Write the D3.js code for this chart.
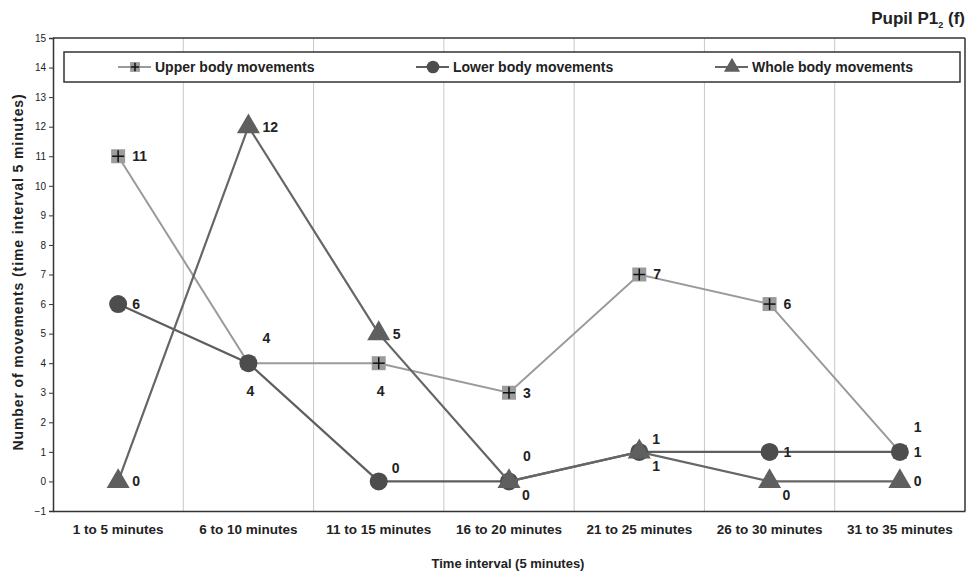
<!DOCTYPE html>
<html><head><meta charset="utf-8">
<script src="https://cdn.jsdelivr.net/npm/d3@7/dist/d3.min.js"></script>
<style>
body{margin:0;background:#fff;}
text{font-family:"Liberation Sans",Arial,sans-serif;}
</style></head>
<body><svg id="chart" width="968" height="573"></svg>
<script>
const categories = ["1 to 5 minutes","6 to 10 minutes","11 to 15 minutes","16 to 20 minutes","21 to 25 minutes","26 to 30 minutes","31 to 35 minutes"];
const upperBody = [11, 4, 4, 3, 7, 6, 1];
const lowerBody = [6, 4, 0, 0, 1, 1, 1];
const wholeBody = [0, 12, 5, 0, 1, 0, 0];
const yTicks = [-1,0,1,2,3,4,5,6,7,8,9,10,11,12,13,14,15];
const seriesNames = ["Upper body movements","Lower body movements","Whole body movements"];
// label placement keywords per point
const upperLabelPos = ["r","b","b","r","r","r","AR"];
const lowerLabelPos = ["r","AR","ar","AR","ar","r","r"];
const wholeLabelPos = ["r","r","r","br","br","br","r"];

const svg = d3.select("#chart");
const L = 53, R = 965, T = 38, B = 511;
const x = d3.scaleBand().domain(categories).range([L, R]).padding(0);
const cx = c => x(c) + x.bandwidth()/2;
const y = d3.scaleLinear().domain([-1, 15]).range([B, T]);

// gridlines
svg.append("g").selectAll("line").data(categories.slice(1)).join("line")
  .attr("x1", d => x(d)).attr("x2", d => x(d)).attr("y1", T).attr("y2", B)
  .attr("stroke", "#c8c8c8").attr("stroke-width", 1);

// frame
svg.append("line").attr("x1", L).attr("x2", R).attr("y1", T).attr("y2", T).attr("stroke", "#333").attr("stroke-width", 1.5);
svg.append("line").attr("x1", R).attr("x2", R).attr("y1", T).attr("y2", B).attr("stroke", "#333").attr("stroke-width", 1.5);

// y axis
const yAxis = svg.append("g").attr("transform", `translate(${L},0)`)
  .call(d3.axisLeft(y).tickValues(yTicks).tickSize(4).tickPadding(3).tickFormat(d3.format("d")));
yAxis.select(".domain").attr("stroke", "#333").attr("stroke-width", 1.5);
yAxis.selectAll(".tick line").attr("stroke", "#333");
yAxis.selectAll(".tick text").attr("font-size", 10).attr("fill", "#222").attr("font-family", "'Liberation Sans Narrow','Liberation Sans',Arial,sans-serif");

// x axis
const xAxis = svg.append("g").attr("transform", `translate(0,${B})`)
  .call(d3.axisBottom(x).tickSize(0).tickPadding(13));
xAxis.select(".domain").attr("stroke", "#333").attr("stroke-width", 1.5);
xAxis.selectAll(".tick text").attr("font-size", 13.5).attr("font-weight", "bold").attr("fill", "#222");

// axis titles
svg.append("text").attr("x", 508).attr("y", 568).attr("text-anchor", "middle")
  .attr("font-size", 13).attr("font-weight", "bold").attr("fill", "#222").text("Time interval (5 minutes)");
svg.append("text").attr("transform", "translate(23,272) rotate(-90)").attr("text-anchor", "middle")
  .attr("font-size", 14).attr("font-weight", "bold").attr("fill", "#222").attr("letter-spacing", "0.9px")
  .text("Number of movements (time interval 5 minutes)");

// title
const title = svg.append("text").attr("x", 965).attr("y", 24).attr("text-anchor", "end")
  .attr("font-size", 17).attr("font-weight", "bold").attr("fill", "#222");
title.append("tspan").text("Pupil P1");
title.append("tspan").attr("font-size", 9).attr("dy", 4).text("2");
title.append("tspan").attr("dy", -4).text(" (f)");

const series = [
  {name: seriesNames[0], values: upperBody, pos: upperLabelPos, line: "#9a9a9a", width: 2, shape: "square"},
  {name: seriesNames[1], values: lowerBody, pos: lowerLabelPos, line: "#5e5e5e", width: 2.2, shape: "circle"},
  {name: seriesNames[2], values: wholeBody, pos: wholeLabelPos, line: "#666", width: 2.2, shape: "triangle"}
];

function drawMarker(g, shape, px, py, s) {
  if (shape === "square") {
    g.append("rect").attr("x", px - 7*s).attr("y", py - 7*s).attr("width", 14*s).attr("height", 14*s).attr("fill", "#9c9c9c");
    g.append("line").attr("x1", px - 6*s).attr("x2", px + 6*s).attr("y1", py).attr("y2", py).attr("stroke", "#111").attr("stroke-width", 1.5);
    g.append("line").attr("x1", px).attr("x2", px).attr("y1", py - 6*s).attr("y2", py + 6*s).attr("stroke", "#111").attr("stroke-width", 1.5);
  } else if (shape === "circle") {
    g.append("circle").attr("cx", px).attr("cy", py).attr("r", 9*s).attr("fill", "#4d4d4d");
  } else {
    g.append("path").attr("d", d3.symbol().type(d3.symbolTriangle).size(230*s*s)()).attr("transform", `translate(${px},${py})`).attr("fill", "#5f5f5f");
  }
}

const offsets = {
  r: [14, 0, "start"], ar: [13, -13, "start"], AR: [14, -25, "start"],
  br: [13, 14, "start"], b: [2, 28, "middle"]
};

series.forEach(s => {
  const g = svg.append("g");
  const line = d3.line().x((d, i) => cx(categories[i])).y(d => y(d));
  g.append("path").datum(s.values).attr("d", line).attr("fill", "none").attr("stroke", s.line).attr("stroke-width", s.width);
  s.values.forEach((v, i) => drawMarker(g, s.shape, cx(categories[i]), y(v), 1));
});
series.forEach(s => {
  s.values.forEach((v, i) => {
    const o = offsets[s.pos[i]];
    svg.append("text").attr("x", cx(categories[i]) + o[0]).attr("y", y(v) + o[1]).attr("dy", "0.35em")
      .attr("text-anchor", o[2]).attr("font-size", 14).attr("font-weight", "bold").attr("fill", "#222").text(v);
  });
});

// legend
const lg = svg.append("g");
lg.append("rect").attr("x", 64).attr("y", 52).attr("width", 896).attr("height", 30).attr("fill", "#fff").attr("stroke", "#333").attr("stroke-width", 1.5);
const legendX = [118, 416, 715];
series.forEach((s, i) => {
  const lx = legendX[i], ly = 67;
  lg.append("line").attr("x1", lx).attr("x2", lx + 33).attr("y1", ly).attr("y2", ly).attr("stroke", s.line).attr("stroke-width", 2);
  drawMarker(lg, s.shape, lx + 17, ly, 0.7);
  lg.append("text").attr("x", lx + 37).attr("y", ly).attr("dy", "0.35em").attr("font-size", 14).attr("font-weight", "bold").attr("fill", "#222").text(s.name);
});
</script></body></html>
